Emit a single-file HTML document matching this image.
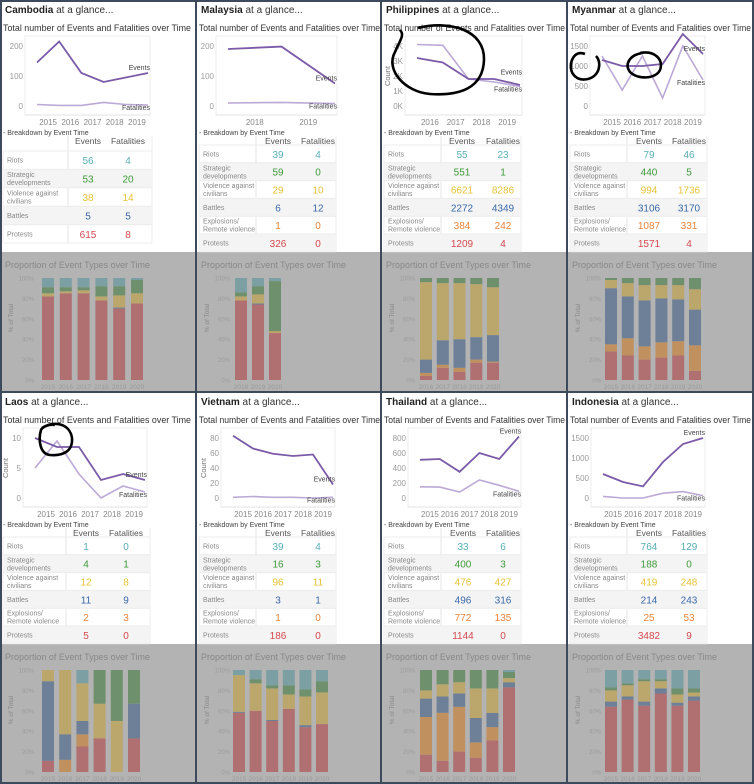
<!DOCTYPE html>
<html><head><meta charset="utf-8">
<style>
html,body{margin:0;padding:0;background:#fff;}
body{width:754px;height:784px;overflow:hidden;font-family:"Liberation Sans",sans-serif;}
svg{display:block;}
</style></head>
<body>
<svg id="dash" width="754" height="784" viewBox="0 0 754 784" xmlns="http://www.w3.org/2000/svg" font-family="Liberation Sans, sans-serif"></svg>
<script>
// ---------- DATA ----------
const countries = ["Cambodia","Malaysia","Philippines","Myanmar","Laos","Vietnam","Thailand","Indonesia"];
const lineYears = [
 [2015,2016,2017,2018,2019,2020],[2018,2019,2020],[2016,2017,2018,2019,2020],[2015,2016,2017,2018,2019,2020],
 [2015,2016,2017,2018,2019,2020],[2015,2016,2017,2018,2019,2020],[2015,2016,2017,2018,2019,2020],[2015,2016,2017,2018,2019,2020]];
const eventsSeries = [
 [145,215,110,80,95,110],[190,198,75],[3200,2900,1800,1800,1400],[1150,1000,1000,1050,1800,1300],
 [10,8.5,8.5,3,4,3],[83,66,59,56,58,18],[510,520,350,600,520,820],[600,400,290,900,1350,1500]];
const fatalitiesSeries = [
 [5,2,2,12,5,3],[10,12,8],[4100,4050,1800,1600,1300],[1250,400,1250,200,1500,650],
 [5,9.5,4,0,2,1],[1,2,1,1,0,1],[150,145,80,240,170,90],[40,0,0,120,160,60]];
const lineTicks = [[0,100,200],[0,100,200],[0,1000,2000,3000,4000],[0,500,1000,1500],[0,5,10],[0,20,40,60,80],[0,200,400,600,800],[0,500,1000,1500]];
const tickLabelsPhil = ["0K","1K","2K","3K","4K"];
const eventTypes = ["Riots","Strategic developments","Violence against civilians","Battles","Explosions/ Remote violence","Protests"];
const tableEvents = [[56,53,38,5,null,615],[39,59,29,6,1,326],[55,551,6621,2272,384,1209],[79,440,994,3106,1087,1571],
 [1,4,12,11,2,5],[39,16,96,3,1,186],[33,400,476,496,772,1144],[764,188,419,214,25,3482]];
const tableFatalities = [[4,20,14,5,null,8],[4,0,10,12,0,0],[23,1,8286,4349,242,4],[46,5,1736,3170,331,4],
 [0,1,8,9,3,0],[4,3,11,1,0,0],[6,3,427,316,135,0],[129,0,248,243,53,9]];
// stacked share per year: [protests, explosions, battles, violence, strategic, riots]
const barYears = [[2015,2016,2017,2018,2019,2020],[2018,2019,2020],[2016,2017,2018,2019,2020],[2015,2016,2017,2018,2019,2020],
 [2015,2016,2017,2018,2019,2020],[2015,2016,2017,2018,2019,2020],[2015,2016,2017,2018,2019,2020],[2015,2016,2017,2018,2019,2020]];
const barShares = [
 [[82,0,0,3,6,9],[85,0,0,2,4,9],[85,0,0,3,3,9],[78,0,0,4,10,8],[70,0,1,12,9,8],[75,0,0,10,13,2]],
 [[78,0,0,4,4,14],[74,0,1,9,8,8],[46,0,0,2,49,3]],
 [[4,3,13,76,4,0],[12,3,24,56,5,0],[8,4,28,55,5,0],[17,3,22,52,6,0],[17,1,26,47,9,0]],
 [[28,7,55,8,2,0],[24,17,41,13,5,0],[20,13,45,15,7,0],[22,15,43,13,7,0],[24,14,41,14,7,0],[9,25,35,20,11,0]],
 [[11,0,78,11,0,0],[0,12,25,63,0,0],[25,12,13,37,0,13],[33,0,0,34,33,0],[0,0,0,50,50,0],[33,0,34,0,33,0]],
 [[58,0,1,36,0,5],[60,0,0,27,4,9],[50,0,1,31,3,15],[62,0,0,14,9,15],[44,0,2,28,7,19],[47,0,0,31,11,11]],
 [[17,37,18,8,20,0],[11,47,16,12,14,0],[20,44,13,11,12,0],[14,15,24,29,18,0],[31,13,14,24,18,0],[83,0,5,4,6,2]],
 [[64,0,5,11,3,17],[71,0,3,11,2,13],[65,0,4,20,2,9],[77,0,5,7,2,9],[65,0,3,8,6,18],[70,0,4,4,4,18]]];
const barTicks = [0,20,40,60,80,100];

// ---------- LAYOUT (not data) ----------
const panelX = [0,196,381,567,0,196,381,567];
const panelY = [0,0,0,0,392,392,392,392];
const lineX0 = [37,32,36,35,35,37,39,36], lineX1 = [148,139,139,136,145,137,138,136];
const showCount = [false,false,true,false,true,true,false,false];
const tabRight = [152,140,140,140,150,140,140,140], evCol=[88,82,81,82,86,82,82,82], faCol=[128,122,122,122,126,122,122,122], labRight=[68,60,60,60,66,60,60,60];
const barX0 = [42,39,39,38,42,37,39,38], barX1 = [143,85,118,134,140,132,134,133];
const typeColors = ["#57aeb5","#3f9a3a","#e6c237","#3a68a8","#e8843a","#d6484f"];
const barColors = ["#b07072","#c0905e","#6e8098","#bba66c","#6e906d","#7c9fa4"];

const NS="http://www.w3.org/2000/svg";
const root=document.getElementById('dash');
function mk(tag,attrs,parent,txt){const e=document.createElementNS(NS,tag);for(const k in attrs)e.setAttribute(k,attrs[k]);if(txt!==undefined)e.textContent=txt;(parent||root).appendChild(e);return e;}

countries.forEach((c,i)=>{
  const g=mk('g',{transform:`translate(${panelX[i]},${panelY[i]})`});
  
  
  const W=(i%4===0)?196:(i%4===3?187:186);
  mk('rect',{x:0,y:252,width:W,height:140,fill:'#b3b3b3'},g);
  const t=mk('text',{x:5,y:13,'font-size':10,fill:'#333'},g);
  
  
  mk('tspan',{'font-weight':'bold',fill:'#222'},t,c); mk('tspan',{},t,' at a glance...');
  const st=mk('text',{x:3,y:31,'font-size':9.5,fill:'#333',textLength:(i%4===0?188:181),lengthAdjust:'spacingAndGlyphs'},g,'Total number of Events and Fatalities over Time');
  
  
  // line chart
  const lc=mk('g',{},g);
  
  
  const ticks=lineTicks[i], T=ticks[ticks.length-1];
  const ys=v=>106-v/T*60;
  const n=lineYears[i].length, x0=lineX0[i], x1=lineX1[i];
  const xs=k=>x0+(x1-x0)*k/(n-1);
  mk('rect',{x:x0-12,y:36,width:x1-x0+14,height:79,fill:'none',stroke:'#eeeeee'},lc);
  mk('line',{x1:x0-12,x2:x1+2,y1:115,y2:115,stroke:'#e3e3e3'},lc);
  ticks.forEach((v,k)=>{
    const lab=(i===2)?tickLabelsPhil[k]:String(v);
    const tt=mk('text',{x:x0-14,y:ys(v)+3,'font-size':8,'text-anchor':'end',fill:'#999'},lc,lab);
    
    
  });
  if(showCount[i]){const ct=mk('text',{x:0,y:0,'font-size':7.5,fill:'#777','text-anchor':'middle',transform:`translate(${x0-27},76) rotate(-90)`},lc,'Count');
    }
  for(let k=0;k<n-1;k++){
    const xl=mk('text',{x:(xs(k)+xs(k+1))/2,y:125,'font-size':8,'text-anchor':'middle',fill:'#888'},lc,String(lineYears[i][k]));
    
    
  }
  const fp=fatalitiesSeries[i].map((v,k)=>`${xs(k).toFixed(1)},${ys(v).toFixed(1)}`).join(' ');
  const ep=eventsSeries[i].map((v,k)=>`${xs(k).toFixed(1)},${ys(v).toFixed(1)}`).join(' ');
  const fl=mk('polyline',{points:fp,fill:'none',stroke:'#bba9d6','stroke-width':1.6},lc);
  
  const el=mk('polyline',{points:ep,fill:'none',stroke:'#7b5aa8','stroke-width':1.8},lc);
  
  const ev=eventsSeries[i][n-1], fv=fatalitiesSeries[i][n-1];
  let ey=ys(ev)-3, fy=ys(fv)-3;
  if(Math.abs(ey-fy)<9){ if(ev>=fv){ey=Math.min(ey,fy-9);}else{fy=Math.min(fy,ey-9);} }
  const el2=mk('text',{x:x1+2,y:ey,'font-size':7,'text-anchor':'end',fill:'#444'},lc,'Events');
  
  const fl2=mk('text',{x:x1+2,y:fy+(fv<ev?8:0),'font-size':7,'text-anchor':'end',fill:'#444'},lc,'Fatalities');
  
  // table
  const tb=mk('g',{},g);
  
  
  mk('text',{x:3,y:135,'font-size':7,fill:'#444'},tb,'- Breakdown by Event Time');
  mk('text',{x:evCol[i],y:144,'font-size':8.5,'text-anchor':'middle',fill:'#555'},tb,'Events');
  mk('text',{x:faCol[i],y:144,'font-size':8.5,'text-anchor':'middle',fill:'#555'},tb,'Fatalities');
  const rows=[];eventTypes.forEach((ty,k)=>{if(tableEvents[i][k]!==null)rows.push(k);});
  const rh=rows.length===5?18.4:17.8, r0=rows.length===5?151:145;
  mk('line',{x1:labRight[i],x2:labRight[i],y1:136,y2:r0+rows.length*rh,stroke:'#e6e6e6'},tb);
  mk('line',{x1:tabRight[i],x2:tabRight[i],y1:136,y2:r0+rows.length*rh,stroke:'#ececec'},tb);
  mk('line',{x1:3,x2:3,y1:r0,y2:r0+rows.length*rh,stroke:'#ececec'},tb);
  rows.forEach((k,r)=>{
    const y=r0+r*rh;
    if(r%2===1)mk('rect',{x:3,y:y,width:tabRight[i]-3,height:rh,fill:'#f4f4f4'},tb);
    mk('line',{x1:3,x2:tabRight[i],y1:y,y2:y,stroke:'#ececec'},tb);
    const words=eventTypes[k].split(' ');
    if(words.length>1&&k!==0&&k!==5){
      const a=(k===4)?'Explosions/':words[0], b=(k===4)?'Remote violence':(k===2?'civilians':words.slice(1).join(' '));
      mk('text',{x:7,y:y+7.5,'font-size':7,fill:'#888'},tb,k===2?'Violence against':a);
      mk('text',{x:7,y:y+15.5,'font-size':7,fill:'#888'},tb,b);
    } else mk('text',{x:7,y:y+rh/2+2.5,'font-size':7,fill:'#888'},tb,eventTypes[k]);
    const ve=mk('text',{x:evCol[i],y:y+rh/2+4,'font-size':10,'text-anchor':'middle',fill:typeColors[k]},tb,String(tableEvents[i][k]));
    
    const vf=mk('text',{x:faCol[i],y:y+rh/2+4,'font-size':10,'text-anchor':'middle',fill:typeColors[k]},tb,String(tableFatalities[i][k]));
    
  });
  mk('line',{x1:3,x2:tabRight[i],y1:r0+rows.length*rh,y2:r0+rows.length*rh,stroke:'#ececec'},tb);
  // bar chart
  const bc=mk('g',{},g);
  
  
  mk('text',{x:5,y:268,'font-size':9.5,fill:'#888',textLength:145,lengthAdjust:'spacingAndGlyphs'},bc,'Proportion of Event Types over Time');
  const by0=278, by1=380, bys=p=>by1-(by1-by0)*p/100;
  barTicks.forEach(p=>{const tt=mk('text',{x:34,y:bys(p)+2.5,'font-size':6,'text-anchor':'end',fill:'#9c9c9c'},bc,p+'%');
    });
  mk('text',{x:0,y:0,'font-size':6.5,fill:'#8a8a8a','text-anchor':'middle',transform:`translate(13,318) rotate(-90)`},bc,'% of Total');
  const nb=barYears[i].length, bw=12, bstep=nb>1?(barX1[i]-barX0[i]-bw)/(nb-1):0;
  barYears[i].forEach((yr,k)=>{
    const bx=barX0[i]+k*bstep; let cum=0;
    const tot=barShares[i][k].reduce((a,b)=>a+b,0);
    barShares[i][k].forEach((v,s)=>{
      if(v<=0)return;
      const p0=cum/tot*100, p1=(cum+v)/tot*100; cum+=v;
      const r=mk('rect',{x:bx.toFixed(1),y:bys(p1).toFixed(1),width:bw,height:(bys(p0)-bys(p1)).toFixed(1),fill:barColors[s]},bc);
      
      
    });
    const yl=mk('text',{x:bx+bw/2,y:389,'font-size':6.5,'text-anchor':'middle',fill:'#9a9a9a'},bc,String(yr));
    
  });
});
// borders
[[196,0,196,784],[381,0,381,784],[567,0,567,784],[0,392,754,392],[1,0,1,784],[753,0,753,784],[0,1,754,1],[0,783,754,783]].forEach(l=>{
  mk('line',{x1:l[0],y1:l[1],x2:l[2],y2:l[3],stroke:'#3d4a5c','stroke-width':2});
});
// hand-drawn annotation circles
const ann=mk('g',{fill:'none',stroke:'#000','stroke-width':2.6});


mk('path',{d:'M418,28 C450,20 485,30 484,60 C483,88 460,96 430,94 C405,92 385,70 395,52 C400,40 405,35 400,30'},ann);
mk('path',{d:'M596,56 C602,62 600,76 588,79 C574,82 568,70 572,60 C575,53 580,52 585,54'},ann);
mk('path',{d:'M640,53 C655,50 664,60 660,70 C656,79 638,80 630,72 C624,64 630,55 642,53'},ann);
mk('path',{d:'M42,428 C55,420 70,424 72,438 C73,452 62,456 50,455 C40,454 38,440 41,430 C43,426 50,424 55,425'},ann);
</script>
</body></html>
